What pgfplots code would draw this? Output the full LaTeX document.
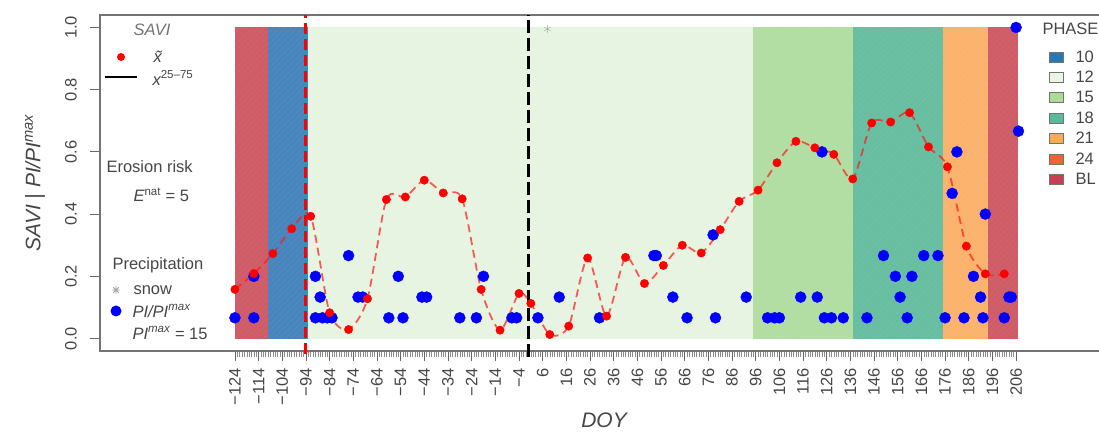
\documentclass[border=0pt]{standalone}
\usepackage{fontspec}
\setmainfont{Liberation Sans}
\usepackage{pgfplots}
\pgfplotsset{compat=1.18}
\usetikzlibrary{patterns.meta}
\definecolor{cBL}{RGB}{207,92,102}
\definecolor{cten}{RGB}{72,133,189}
\definecolor{ctwelve}{RGB}{231,244,226}
\definecolor{cfifteen}{RGB}{178,221,163}
\definecolor{ceighteen}{RGB}{104,190,160}
\definecolor{ctwentyone}{RGB}{250,178,108}
\definecolor{ltwentyfour}{RGB}{240,100,50}
\definecolor{lBL}{RGB}{205,60,80}
\definecolor{lten}{RGB}{40,120,180}
\definecolor{ltwelve}{RGB}{235,245,230}
\definecolor{lfifteen}{RGB}{170,220,150}
\definecolor{leighteen}{RGB}{90,185,150}
\definecolor{ltwentyone}{RGB}{250,170,80}
\definecolor{txt}{RGB}{70,70,70}

\pgfplotstableread{
doy savi
-124 0.158
-116 0.209
-108 0.273
-100 0.353
-92 0.393
-84 0.083
-76 0.029
-68 0.128
-60 0.447
-52 0.455
-44 0.509
-36 0.468
-28 0.449
-20 0.158
-12 0.027
-4 0.145
1 0.113
9 0.013
17 0.040
25 0.259
33 0.072
41 0.261
49 0.177
57 0.235
65 0.300
73 0.275
81 0.350
89 0.441
97 0.477
105 0.565
113 0.634
121 0.613
129 0.592
137 0.513
145 0.693
153 0.696
161 0.726
169 0.616
177 0.552
185 0.297
193 0.208
201 0.208
}\saviTable

\pgfplotstableread{
doy pi
-124 0.0667
-116 0.0667
-116 0.2
-90 0.2
-90 0.0667
-88 0.1333
-87 0.0667
-85 0.0667
-83 0.0667
-76 0.2667
-72 0.1333
-70 0.1333
-59 0.0667
-55 0.2
-53 0.0667
-45 0.1333
-43 0.1333
-29 0.0667
-22 0.0667
-19 0.2
-7 0.0667
-5 0.0667
4 0.0667
13 0.1333
30 0.0667
53 0.2667
54 0.2667
61 0.1333
67 0.0667
78 0.3333
79 0.0667
92 0.1333
101 0.0667
104 0.0667
106 0.0667
115 0.1333
122 0.1333
124 0.6
125 0.0667
128 0.0667
133 0.0667
143 0.0667
150 0.2667
155 0.2
157 0.1333
160 0.0667
162 0.2
167 0.2667
173 0.2667
176 0.0667
179 0.4667
181 0.6
184 0.0667
188 0.2
191 0.1333
192 0.0667
193 0.4
201 0.0667
203 0.1333
204 0.1333
206 1.0
207 0.6667
}\piTable

\tikzset{hatch/.style={postaction={pattern={Lines[angle=45,distance=4pt,line width=0.5pt]}, pattern color=white, fill opacity=0.09}}}

\begin{document}
\begin{tikzpicture}[x=1pt,y=1pt]
\path[use as bounding box] (0,0) rectangle (1099,433);
\begin{axis}[
  at={(100pt,82pt)}, anchor=south west,
  scale only axis, width=1020.2pt, height=336pt,
  xmin=-181, xmax=250, ymin=-0.04, ymax=1.04,
  axis line style={draw=black!55, line width=1.3pt},
  tick align=outside, tick pos=left,
  tick style={black!60, line width=0.8pt},
  major tick length=10pt, minor tick length=6pt,
  xtick={-124,-114,...,206},
  xticklabels={−124,−114,−104,−94,−84,−74,−64,−54,−44,−34,−24,−14,−4,6,16,26,36,46,56,66,76,86,96,106,116,126,136,146,156,166,176,186,196,206},
  minor xtick={-124,-123,...,206},
  minor tick style={black!45, line width=0.5pt},
  xticklabel style={yshift=-6pt, rotate=90, anchor=east, font=\fontsize{16.5}{17}\selectfont, text=txt, inner sep=1pt},
  ytick={0,0.2,...,1.0},
  yticklabels={0.0,0.2,0.4,0.6,0.8,1.0},
  yticklabel style={xshift=-11pt, rotate=90, anchor=south, font=\fontsize{16.5}{17}\selectfont, text=txt, inner sep=2pt},
  clip=false,
]
% phases
\addplot[draw=none, fill=cBL, hatch] coordinates {(-124,0) (-110,0) (-110,1) (-124,1)} -- cycle;
\addplot[draw=none, fill=cten, hatch] coordinates {(-110,0) (-93,0) (-93,1) (-110,1)} -- cycle;
\addplot[draw=none, fill=ctwelve] coordinates {(-93,0) (95,0) (95,1) (-93,1)} -- cycle;
\addplot[draw=none, fill=cfifteen, hatch] coordinates {(95,0) (137,0) (137,1) (95,1)} -- cycle;
\addplot[draw=none, fill=ceighteen, hatch] coordinates {(137,0) (175,0) (175,1) (137,1)} -- cycle;
\addplot[draw=none, fill=ctwentyone, hatch] coordinates {(175,0) (194,0) (194,1) (175,1)} -- cycle;
\addplot[draw=none, fill=cBL, hatch] coordinates {(194,0) (207,0) (207,1) (194,1)} -- cycle;
% vertical markers
\addplot[red, line width=3pt, dash pattern=on 11pt off 5pt] coordinates {(-94,-0.05) (-94,1.04)};
\addplot[black, line width=3.5pt, dash pattern=on 13pt off 5pt] coordinates {(0,-0.06) (0,1.04)};
% snow
\addplot[only marks, mark=asterisk, mark size=4pt, black!35] coordinates {(8,0.995)};
% SAVI line
\addplot[smooth, tension=0.45, color=red!90!white, opacity=0.7, line width=1.8pt, dash pattern=on 8pt off 5pt] table[x=doy,y=savi] {\saviTable};
% precipitation
\addplot[only marks, mark=*, mark size=5.5pt, color=blue, mark options={fill=blue, draw=blue}] table[x=doy,y=pi] {\piTable};
% SAVI points
\addplot[only marks, mark=*, mark size=4.2pt, color=red, mark options={fill=red, draw=red}] table[x=doy,y=savi] {\saviTable};
\end{axis}
% labels
\node[rotate=90, text=txt, font=\fontsize{21}{22}\selectfont\itshape] at (35,250) {SAVI | PI/PI\textsuperscript{max}};
\node[text=txt, font=\fontsize{21}{22}\selectfont\itshape] at (604,13) {DOY};
% left legend
\begin{scope}[font=\fontsize{16.5}{17}\selectfont, text=txt]
\node[font=\fontsize{16.5}{17}\selectfont\itshape, text=black!55] at (152,403) {SAVI};
\fill[red] (121,376) circle (4pt);
\node[anchor=west] at (150,376) {\itshape\~x};
\draw[line width=2.5pt] (105,356) -- (137,356);
\node[anchor=west] at (149,355) {\itshape x\textsuperscript{\upshape 25–75}};
\node[anchor=west] at (103,266) {Erosion risk};
\node[anchor=west] at (130,238) {\itshape E\textsuperscript{\upshape nat}\upshape\ = 5};
\node[anchor=west] at (109,168) {Precipitation};
\draw[black!35, line width=0.8pt] (112,143) -- (120,143) (116,139) -- (116,147) (113.2,140.2) -- (118.8,145.8) (113.2,145.8) -- (118.8,140.2);
\node[anchor=west] at (130,143) {snow};
\fill[blue] (116,122) circle (5.5pt);
\node[anchor=west] at (129,122) {\itshape PI/PI\textsuperscript{max}};
\node[anchor=west] at (129,100) {\itshape PI\textsuperscript{max}\upshape\ = 15};
% right legend
\node[anchor=west] at (1039,404) {PHASE};
\foreach \c/\l/\y in {lten/10/376, ltwelve/12/356, lfifteen/15/336, leighteen/18/315, ltwentyone/21/295, ltwentyfour/24/274, lBL/BL/254}{
  \filldraw[fill=\c, draw=black!55, line width=0.6pt] (1049,\y-5) rectangle (1063,\y+5);
  \node[anchor=west] at (1072,\y) {\l};
}
\end{scope}
\end{tikzpicture}
\end{document}
